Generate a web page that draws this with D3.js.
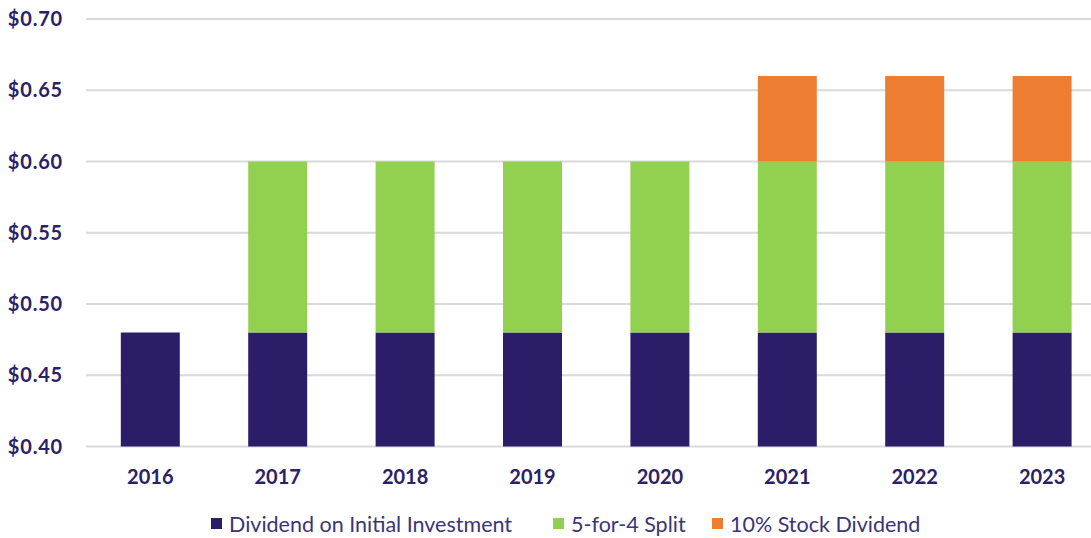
<!DOCTYPE html>
<html>
<head>
<meta charset="utf-8">
<script src="https://cdn.jsdelivr.net/npm/d3@7"></script>
<style>
  body { margin: 0; background: #fff; }
  .tick-label { font-family: "Lato", "Open Sans", sans-serif; font-weight: bold; fill: #2b2166; }
  .legend-text { font-family: "Lato", "Open Sans", sans-serif; fill: #3a3575; }
</style>
</head>
<body>
<div id="chart"></div>
<script>
const years = ['2016', '2017', '2018', '2019', '2020', '2021', '2022', '2023'];
const initialInvestment = [0.48, 0.48, 0.48, 0.48, 0.48, 0.48, 0.48, 0.48];
const splitFiveForFour = [0, 0.12, 0.12, 0.12, 0.12, 0.12, 0.12, 0.12];
const stockDividend = [0, 0, 0, 0, 0, 0.06, 0.06, 0.06];
const seriesNames = ['Dividend on Initial Investment', '5-for-4 Split', '10% Stock Dividend'];
const yTicks = [0.40, 0.45, 0.50, 0.55, 0.60, 0.65, 0.70];

const width = 1091, height = 538;
const colors = ['#2b1d68', '#92d050', '#ed7d31'];
const yBase = 0.40;

const rows = years.map((yr, i) => ({
    year: yr,
    s0: initialInvestment[i],
    s1: splitFiveForFour[i],
    s2: stockDividend[i]
}));

const svg = d3.select('#chart').append('svg')
    .attr('width', width)
    .attr('height', height);

const x = d3.scaleBand()
    .domain(years)
    .range([86.6, 1105.8])
    .paddingInner(0.537)
    .paddingOuter(0.2685);

const y = d3.scaleLinear()
    .domain([0.40, 0.70])
    .range([446.5, 19]);

// gridlines
svg.append('g')
    .selectAll('line').data(yTicks)
    .enter()
    .append('line')
    .attr('x1', 86)
    .attr('x2', width)
    .attr('y1', d => y(d))
    .attr('y2', d => y(d))
    .attr('stroke', '#d9d9d9')
    .attr('stroke-width', 2);

// y labels
svg.append('g')
    .selectAll('text').data(yTicks)
    .enter()
    .append('text')
    .attr('class', 'tick-label')
    .attr('x', 63)
    .attr('y', d => y(d))
    .attr('dy', '0.35em')
    .attr('text-anchor', 'end')
    .attr('font-size', 20)
    .attr('letter-spacing', 0.8)
    .text(d => '$' + d.toFixed(2));

// stacked bars
const stack = d3.stack().keys(['s0', 's1', 's2']);
const layers = stack(rows);

svg.append('g')
    .selectAll('g').data(layers)
    .enter()
    .append('g')
    .attr('fill', (d, i) => colors[i])
    .selectAll('rect').data(d => d)
    .enter()
    .append('rect')
    .filter(d => d[1] - d[0] > 0)
    .attr('x', d => x(d.data.year))
    .attr('width', x.bandwidth())
    .attr('y', d => y(d[1]))
    .attr('height', d => y(Math.max(d[0], yBase)) - y(d[1]));

// x labels
svg.append('g')
    .selectAll('text').data(years)
    .enter()
    .append('text')
    .attr('class', 'tick-label')
    .attr('x', d => x(d) + x.bandwidth() / 2)
    .attr('y', 484)
    .attr('text-anchor', 'middle')
    .attr('font-size', 20)
    .text(d => d);

// legend
const legendX = [211, 553, 712];
const legend = svg.append('g')
    .selectAll('g').data(seriesNames)
    .enter()
    .append('g')
    .attr('transform', (d, i) => 'translate(' + legendX[i] + ',524)');
legend.append('rect')
    .attr('x', 0)
    .attr('y', -6)
    .attr('width', 11)
    .attr('height', 11)
    .attr('fill', (d, i) => colors[i]);
legend.append('text')
    .attr('class', 'legend-text')
    .attr('x', 18)
    .attr('y', 0)
    .attr('dy', '0.35em')
    .attr('font-size', 21.5)
    .text(d => d);
</script>
</body>
</html>
